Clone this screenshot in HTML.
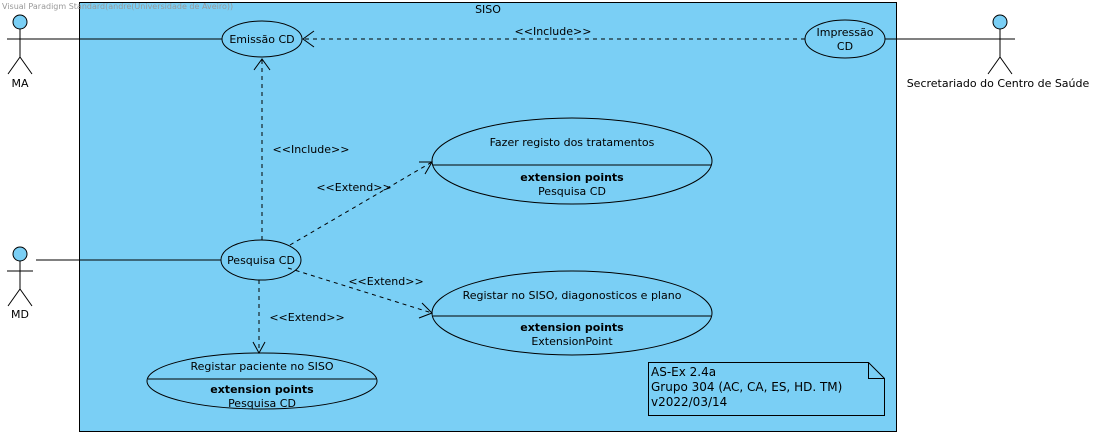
<!DOCTYPE html>
<html><head><meta charset="utf-8"><style>
html,body{margin:0;padding:0;background:#fff;}
svg{display:block;font-family:"DejaVu Sans","Liberation Sans",sans-serif;}
</style></head><body>
<svg width="1106" height="436" viewBox="0 0 1106 436" xmlns="http://www.w3.org/2000/svg">
<rect x="79.5" y="2.5" width="817" height="429" fill="#7ACFF5" stroke="#000"/>
<text x="2" y="9" font-size="8" fill="#999">Visual Paradigm Standard(andre(Universidade de Aveiro))</text>
<text x="488" y="13" font-size="11" text-anchor="middle">SISO</text>
<g stroke="#000" fill="none">
<!-- actors -->
<g fill="#7ACFF5"><circle cx="20" cy="22" r="7"/><circle cx="1000" cy="22" r="7"/><circle cx="20" cy="254" r="7"/></g>
<path d="M20 29V57L8 74M20 57L32 74M7 39H222"/>
<path d="M1000 29V57L988 74M1000 57L1012 74M885 39H1015"/>
<path d="M20 261V289L8 306M20 289L32 306M7 271H33M36 260H221"/>
<!-- ellipses -->
<g fill="#7ACFF5">
<ellipse cx="262" cy="39" rx="40" ry="18"/>
<ellipse cx="845" cy="39" rx="40" ry="19"/>
<ellipse cx="572" cy="161" rx="140" ry="43"/>
<ellipse cx="261" cy="260" rx="40" ry="20"/>
<ellipse cx="572" cy="313" rx="140" ry="42"/>
<ellipse cx="262" cy="381" rx="115" ry="28"/>
</g>
<path d="M433 165H711M433 316H711M148 379H376"/>
<!-- dashed -->
<g stroke-dasharray="4,4">
<path d="M805 39H303"/>
<path d="M262 240V59"/>
<path d="M290 245L432 162"/>
<path d="M288 268L432 313"/>
<path d="M259 280V353"/>
</g>
<path d="M314 31L303 39L314 47"/>
<path d="M254 70L262 59L270 70"/>
<path d="M419 162L432 162L425 174"/>
<path d="M422 303L432 313L419 318"/>
<path d="M253 342L259 353L265 342"/>
<!-- note -->
<path d="M648.5 362.5H868.5L884.5 378.5V415.5H648.5Z" fill="#7ACFF5"/>
<path d="M868.5 362.5V378.5H884.5"/>
</g>
<g font-size="11" text-anchor="middle">
<text x="20" y="87">MA</text>
<text x="20" y="318">MD</text>
<text x="998" y="87">Secretariado do Centro de Saúde</text>
<text x="262" y="43">Emissão CD</text>
<text x="845" y="36">Impressão</text>
<text x="845" y="50">CD</text>
<text x="261" y="264">Pesquisa CD</text>
<text x="572" y="146">Fazer registo dos tratamentos</text>
<text x="572" y="181" font-weight="bold">extension points</text>
<text x="572" y="195">Pesquisa CD</text>
<text x="572" y="299">Registar no SISO, diagonosticos e plano</text>
<text x="572" y="331" font-weight="bold">extension points</text>
<text x="572" y="345">ExtensionPoint</text>
<text x="262" y="370">Registar paciente no SISO</text>
<text x="262" y="393" font-weight="bold">extension points</text>
<text x="262" y="407">Pesquisa CD</text>
<text x="553" y="35">&lt;&lt;Include&gt;&gt;</text>
<text x="311" y="153">&lt;&lt;Include&gt;&gt;</text>
<text x="354" y="191">&lt;&lt;Extend&gt;&gt;</text>
<text x="386" y="285">&lt;&lt;Extend&gt;&gt;</text>
<text x="307" y="321">&lt;&lt;Extend&gt;&gt;</text>
</g>
<g font-size="12">
<text x="651" y="376">AS-Ex 2.4a</text>
<text x="651" y="391">Grupo 304 (AC, CA, ES, HD. TM)</text>
<text x="651" y="406">v2022/03/14</text>
</g>
</svg>
</body></html>
